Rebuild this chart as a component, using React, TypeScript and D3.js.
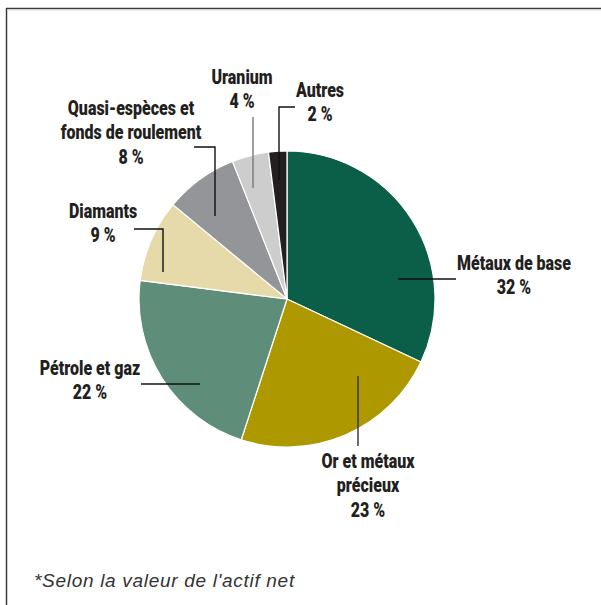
import { useEffect } from "react";
import * as d3 from "d3";

// Répartition du portefeuille (% de l'actif net)
const categories = [
  "Métaux de base",
  "Or et métaux précieux",
  "Pétrole et gaz",
  "Diamants",
  "Quasi-espèces et fonds de roulement",
  "Uranium",
  "Autres",
];
const values = [32, 23, 22, 9, 8, 4, 2];
const colors = ["#0b5e48", "#ae9800", "#5e8e79", "#e6d9aa", "#939598", "#cdcdcd", "#231f20"];

// label lines as printed (name lines + percentage)
const labelLines = [
  ["Métaux de base"],
  ["Or et métaux", "précieux"],
  ["Pétrole et gaz"],
  ["Diamants"],
  ["Quasi-espèces et", "fonds de roulement"],
  ["Uranium"],
  ["Autres"],
];
const footnote = "*Selon la valeur de l'actif net";

// annotation layout, relative to pie centre: leader polyline + text anchor (first baseline)
const layout = [
  { leader: [[111, -20], [169, -20]], text: [227, -29], stroke: "#111" },
  { leader: [[71, 77], [71, 147]], text: [81, 169], stroke: "#333" },
  { leader: [[-87, 85], [-146, 85]], text: [-197, 76], stroke: "#111" },
  { leader: [[-124, -27], [-124, -70], [-153, -70]], text: [-184, -81], stroke: "#111" },
  { leader: [[-72, -83], [-72, -152], [-93, -152]], text: [-156, -184], stroke: "#111" },
  { leader: [[-34, -111], [-34, -182]], text: [-45, -215], stroke: "#777" },
  { leader: [[-8, -119], [-8, -192], [8, -192]], text: [33, -202], stroke: "#111" },
];

const W = 601;
const H = 605;
const cx = 287;
const cy = 299;
const radius = 148;
const labelFont = "Roboto, 'Liberation Sans', sans-serif";
const squeeze = 0.82;

export default function App() {
  useEffect(() => {
    document.body.style.margin = "0";
  }, []);

  const pie = d3.pie<number>().sort(null).value((d) => d);
  const arcs = pie(values);
  const arc = d3.arc<d3.PieArcDatum<number>>().innerRadius(0).outerRadius(radius);
  const line = d3.line();

  return (
    <svg width={W} height={H} style={{ display: "block", background: "#fff" }}>
      {/* frame */}
      <line x1={6.5} y1={8} x2={6.5} y2={H} stroke="#3a3a3a" strokeWidth={1.5} />
      <line x1={6} y1={8.5} x2={W} y2={8.5} stroke="#3a3a3a" strokeWidth={1.5} />
      <line x1={7} y1={10} x2={W} y2={10} stroke="#d8d8d8" strokeWidth={1} />

      <g transform={`translate(${cx},${cy})`}>
        {arcs.map((a, i) => (
          <path key={i} d={arc(a) || ""} fill={colors[i]} stroke="#fff" strokeWidth={1.2} />
        ))}
        {layout.map((l, i) => (
          <path
            key={"l" + i}
            d={line(l.leader as [number, number][]) || ""}
            fill="none"
            stroke={l.stroke}
            strokeWidth={1.4}
          />
        ))}
        {labelLines.map((lines, i) => {
          const [tx, ty] = layout[i].text;
          const all = [...lines, `${values[i]} %`];
          return (
            <g key={"t" + i} transform={`translate(${tx},${ty}) scale(${squeeze},1)`}>
              <text
                textAnchor="middle"
                fontFamily={labelFont}
                fontWeight={900}
                fontSize={19.5}
                fill="#231f20"
              >
                {all.map((s, j) => (
                  <tspan key={j} x={0} dy={j === 0 ? 0 : 24.5}>
                    {s}
                  </tspan>
                ))}
              </text>
            </g>
          );
        })}
      </g>

      <text
        x={34}
        y={587}
        fontFamily="'Liberation Sans', Arial, sans-serif"
        fontStyle="italic"
        fontSize={19}
        letterSpacing={0.7}
        fill="#333"
      >
        {footnote}
      </text>
    </svg>
  );
}
